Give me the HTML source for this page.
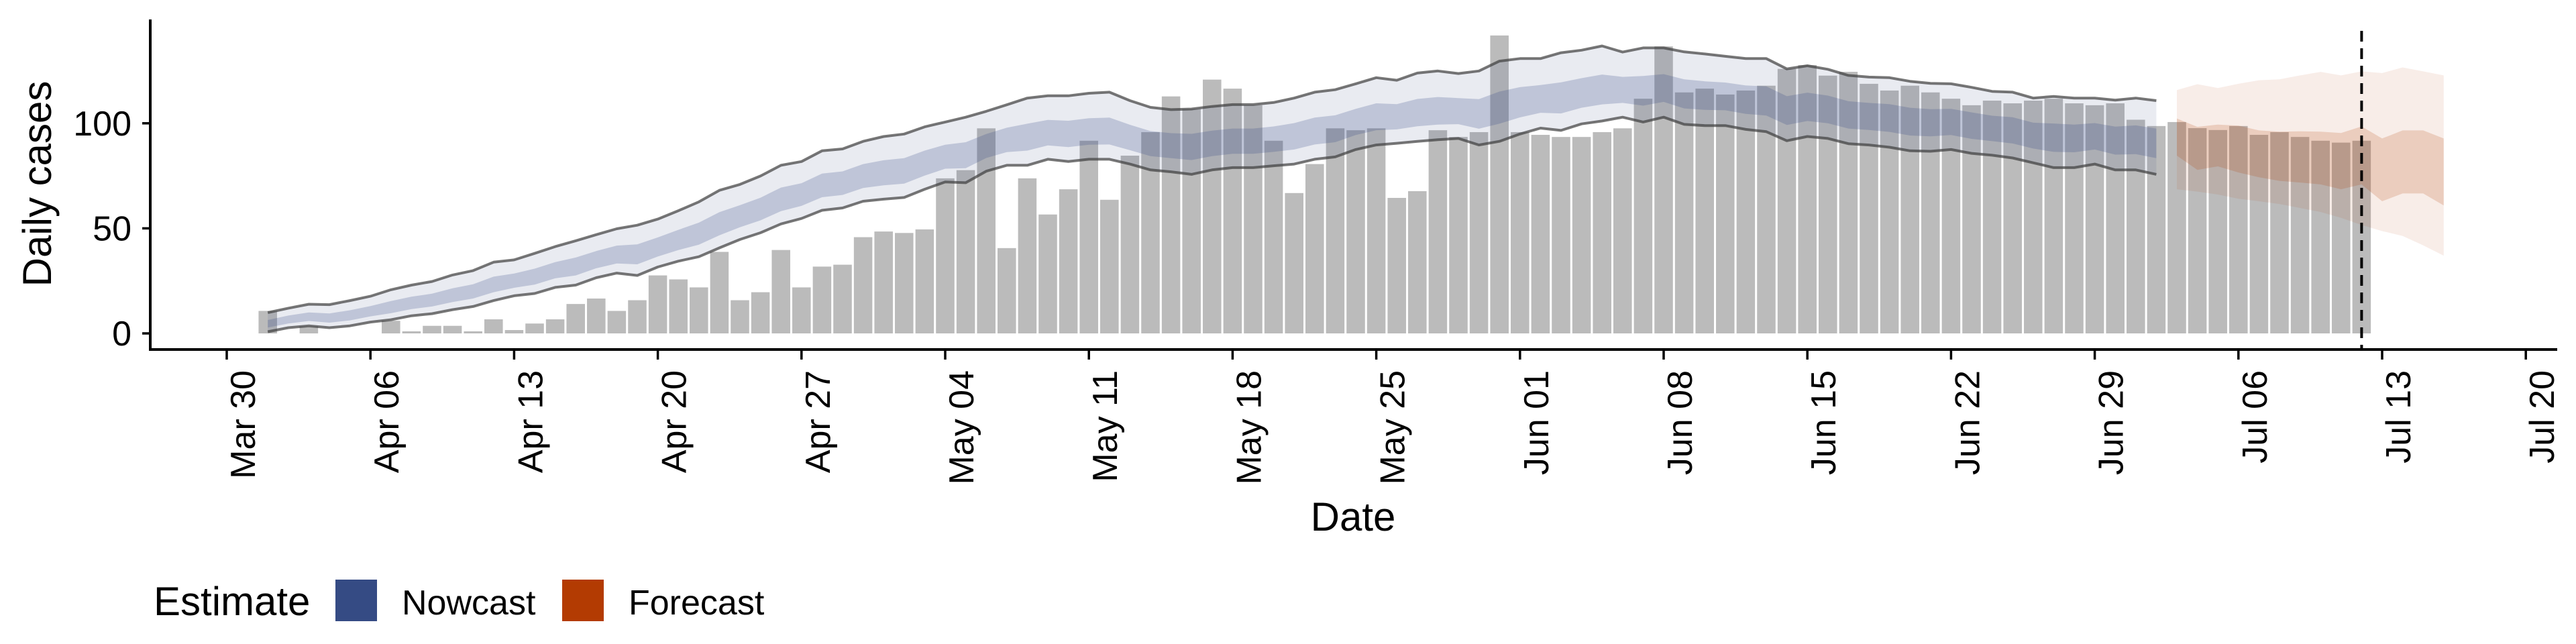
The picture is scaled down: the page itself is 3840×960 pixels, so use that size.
<!DOCTYPE html>
<html><head><meta charset="utf-8">
<style>
html,body{margin:0;padding:0;background:#fff;}
svg{display:block;font-family:"Liberation Sans",Arial,sans-serif;}
</style></head>
<body>
<svg id="chart" width="3840" height="960" viewBox="0 0 3840 960" xmlns="http://www.w3.org/2000/svg">
  <g id="bars"></g>
  <g id="ribbons"></g>
  <g id="lines"></g>
  <line id="vline" stroke="#000" stroke-width="4" stroke-dasharray="16,10"/>
  <g id="axes"></g>
  <text transform="translate(76,274) rotate(-90)" text-anchor="middle" font-size="60">Daily cases</text>
  <text x="2017" y="791" text-anchor="middle" font-size="60">Date</text>
  <g>
    <text x="229" y="917" font-size="60">Estimate</text>
    <rect x="500" y="864" width="62" height="62" fill="#354b84"/>
    <text x="599" y="916" font-size="52">Nowcast</text>
    <rect x="838" y="864" width="62" height="62" fill="#b33b02"/>
    <text x="937" y="916" font-size="52">Forecast</text>
  </g>
</svg>
<script>
// ---- data ----
const barStartDay = 2; // Apr 1 (days since Mar 30)
const barValues = [10.7,0,3.4,0,0,0,6,1,3.6,3.6,1,6.7,1.6,4.7,6.7,14,16.6,10.7,15.8,27.6,25.7,21.9,38.8,15.8,19.6,39.7,21.9,31.8,32.7,45.8,
48.5,47.8,49.5,73.8,77.7,97.6,40.6,73.8,56.6,68.6,91.7,63.6,84.6,95.8,112.8,106.8,120.8,116.5,108.6,91.7,66.8,80.6,97.6,96.7,97.6,64.5,67.7,96.7,93.5,95.8,141.8,
95.8,94.5,93.5,93.5,95.8,97.6,111.7,136.6,114.7,116.5,113.7,115.6,117.9,125.9,127.7,122.7,124.5,118.8,115.6,117.9,114.7,111.7,108.6,110.8,109.5,110.8,111.7,109.5,108.6,109.5,
101.7,98.7,100.6,97.7,96.8,98.7,94.5,95.8,93.5,91.7,90.8,91.7];
const nowStartDay = 2; // Apr 1 .. Jul 2
const nowUpper90 = [9.9,12,13.9,13.7,15.6,17.7,20.8,23,24.7,27.8,29.9,33.9,35,38.1,41.3,44.1,47,49.8,51.5,54.4,58.4,62.6,68.1,70.9,74.9,80,81.8,86.9,87.8,91.4,
93.7,94.9,98.3,100.6,102.9,105.7,108.8,112,113.1,113.1,114.3,114.8,110.8,107.6,106.5,106.8,108,108.9,108.9,109.9,112,114.8,116,118.8,121.7,120.5,123.9,124.9,123.7,124.9,129.6,
130.8,130.8,133.6,134.8,136.8,133.9,135.9,135.9,134,133,131.9,130.8,130.8,125.9,127.4,125.7,122.8,122,121.7,120,119,118.8,117.1,115.2,114.8,112,112.8,112,112,111,
112,110.8];
const nowLower90 = [0.8,2.7,3.6,2.7,3.6,5.4,6.5,8.4,9.4,11.3,12.8,15.6,17.9,19,21.9,23,26.5,28.7,27.6,31.6,34.4,36.5,40.7,44.7,47.9,52.1,54.7,58.6,59.7,62.9,
63.9,64.7,68.6,72.1,71.7,77.2,80,80,82.9,81.8,82.9,82.9,80.6,77.8,76.9,75.7,77.8,78.9,78.9,79.8,80.6,82.9,84,87.5,89.7,90.5,91.4,92.2,92.8,89.7,91.4,
94.9,97.7,96.6,99.7,101.1,102.9,100.6,102.9,99.5,98.9,98.9,97.1,96,91.7,93.7,92.8,90.3,89.7,88.6,86.9,86.7,87.5,85.7,84.8,83.5,81.2,78.9,78.9,80.6,77.8,
77.8,75.7];
const nowUpper50 = [6.4,8.5,10,9.5,11,13,15.4,17.5,18.9,21.5,23.4,27,28.5,30.8,33.9,36.1,39.2,41.8,42.4,45.7,49.3,52.7,57.7,61,64.6,69.4,71.5,76.1,77.1,80.6,
82.4,83.4,87,89.8,91,94.9,97.9,99.8,101.6,101.2,102.4,102.7,99.3,96.3,95.3,95,96.5,97.5,97.5,98.5,100.1,102.7,103.8,106.9,109.5,109.1,111.6,112.5,112,111.5,115.1,
117.2,118.2,119.5,121.5,123.2,122.1,122.5,123.4,120.9,120,119.4,118,117.6,112.9,114.6,113.2,110.5,109.7,109.1,107.4,106.7,106.9,105.2,103.6,102.9,100.3,99.9,99.4,100.1,98.4,
99,97.5];
const nowLower50 = [2.8,4.7,5.9,5.1,6.2,8.1,9.6,11.6,12.8,14.9,16.6,19.6,21.7,23.2,26.2,27.6,31,33.3,32.9,36.6,39.7,42.2,46.7,50.5,53.8,58.2,60.7,64.8,65.9,69.2,
70.5,71.3,75.1,78.4,78.6,83.5,86.3,87,89.5,88.7,89.8,89.9,87.2,84.4,83.4,82.5,84.4,85.5,85.5,86.4,87.5,89.9,91,94.4,96.7,97.1,98.6,99.4,99.6,97.4,99.8,
102.8,105,104.7,107.4,109,109.7,108.4,110.2,107.1,106.4,106.2,104.5,103.7,99.2,101.1,100,97.5,96.8,95.9,94.2,93.8,94.4,92.6,91.5,90.4,88,86.4,86.2,87.5,85.1,
85.3,83.4];
const foreStartDay = 95; // Jul 3 .. Jul 16
const foreUpper90 = [115.8,118.6,116.8,118.8,120.5,120.9,122.8,124.5,122.8,124.7,123.9,126.6,124.7,122.8];
const foreLower90 = [68.6,67.5,66.1,64.1,62.9,61.6,59.7,57.8,55,51.6,48.7,46.4,41.9,37];
const foreUpper50 = [102.3,98.3,99.4,98.9,96.6,96,96.2,96,95.4,98.5,92.8,96.6,96.6,92.8];
const foreLower50 = [84.6,77.8,79.5,76.6,74.3,72.6,71.8,70.9,68.6,70.9,62.9,66.6,66.6,60.9];
const xTickLabels = ["Mar 30","Apr 06","Apr 13","Apr 20","Apr 27","May 04","May 11","May 18","May 25","Jun 01","Jun 08","Jun 15","Jun 22","Jun 29","Jul 06","Jul 13","Jul 20"];
const yTicks = [0,50,100];
const forecastDay = 104; // Jul 12

// ---- scales ----
const X0 = 338, DAY = 30.6;
function xs(d){ return X0 + d*DAY; }
function ys(v){ return 497 - v*3.132; }
const NS = "http://www.w3.org/2000/svg";
function mk(tag, parent){ const e = document.createElementNS(NS, tag); parent.appendChild(e); return e; }

// bars
const gb = document.getElementById('bars');
barValues.forEach((v,i)=>{
  if (v <= 0) return;
  const r = mk('rect', gb);
  
  
  const cx = xs(barStartDay+i), w = DAY*0.9;
  r.setAttribute('x', cx-w/2); r.setAttribute('width', w);
  r.setAttribute('y', ys(v)); r.setAttribute('height', ys(0)-ys(v));
  r.setAttribute('fill', '#bbbbbb');
});

// ribbons
function ribbon(start, up, lo, fill, name){
  const g = document.getElementById('ribbons');
  const p = mk('path', g);
  
  
  let d = '';
  up.forEach((v,i)=>{ d += (i?'L':'M') + xs(start+i).toFixed(1) + ',' + ys(v).toFixed(1); });
  for (let i=lo.length-1;i>=0;i--) d += 'L' + xs(start+i).toFixed(1) + ',' + ys(lo[i]).toFixed(1);
  p.setAttribute('d', d + 'Z');
  p.setAttribute('fill', fill);
}
ribbon(nowStartDay, nowUpper90, nowLower90, 'rgba(53,75,132,0.11)', 'nowcast-90-ribbon');
ribbon(nowStartDay, nowUpper50, nowLower50, 'rgba(53,75,132,0.23)', 'nowcast-50-ribbon');
ribbon(foreStartDay, foreUpper90, foreLower90, 'rgba(179,59,2,0.09)', 'forecast-90-ribbon');
ribbon(foreStartDay, foreUpper50, foreLower50, 'rgba(179,59,2,0.18)', 'forecast-50-ribbon');

// interval lines
function line(start, vals, name){
  const g = document.getElementById('lines');
  const p = mk('path', g);
  
  
  let d=''; vals.forEach((v,i)=>{ d += (i?'L':'M') + xs(start+i).toFixed(1) + ',' + ys(v).toFixed(1); });
  p.setAttribute('d', d); p.setAttribute('fill','none');
  p.setAttribute('stroke','rgba(60,60,60,0.7)'); p.setAttribute('stroke-width','4');
  p.setAttribute('stroke-linejoin','round');
}
line(nowStartDay, nowUpper90, 'nowcast-upper-line');
line(nowStartDay, nowLower90, 'nowcast-lower-line');

// forecast date line
const vl = document.getElementById('vline');
vl.setAttribute('x1', xs(forecastDay)); vl.setAttribute('x2', xs(forecastDay));
vl.setAttribute('y1', 46); vl.setAttribute('y2', 521);

// axes
const ga = document.getElementById('axes');
const yl = mk('line', ga);


yl.setAttribute('x1',224); yl.setAttribute('x2',224); yl.setAttribute('y1',29); yl.setAttribute('y2',523);
yl.setAttribute('stroke','#000'); yl.setAttribute('stroke-width','4');
const xl = mk('line', ga);


xl.setAttribute('x1',222); xl.setAttribute('x2',3812); xl.setAttribute('y1',521); xl.setAttribute('y2',521);
xl.setAttribute('stroke','#000'); xl.setAttribute('stroke-width','4');
yTicks.forEach(v=>{
  const t = mk('line', ga);
  
  
  t.setAttribute('x1',212); t.setAttribute('x2',224); t.setAttribute('y1',ys(v)); t.setAttribute('y2',ys(v));
  t.setAttribute('stroke','#000'); t.setAttribute('stroke-width','3.5');
  const tx = mk('text', ga);
  
  
  tx.setAttribute('x',196); tx.setAttribute('y',ys(v)+18); tx.setAttribute('text-anchor','end');
  tx.setAttribute('font-size','52'); tx.textContent = v;
});
xTickLabels.forEach((lab,i)=>{
  const x = xs(i*7);
  const t = mk('line', ga);
  
  
  t.setAttribute('x1',x); t.setAttribute('x2',x); t.setAttribute('y1',521); t.setAttribute('y2',536);
  t.setAttribute('stroke','#000'); t.setAttribute('stroke-width','3.5');
  const tx = mk('text', ga);
  
  
  tx.setAttribute('transform', 'translate(' + (x+42) + ',552) rotate(-90)');
  tx.setAttribute('text-anchor','end'); tx.setAttribute('font-size','52');
  tx.textContent = lab;
});
</script>
</body></html>
